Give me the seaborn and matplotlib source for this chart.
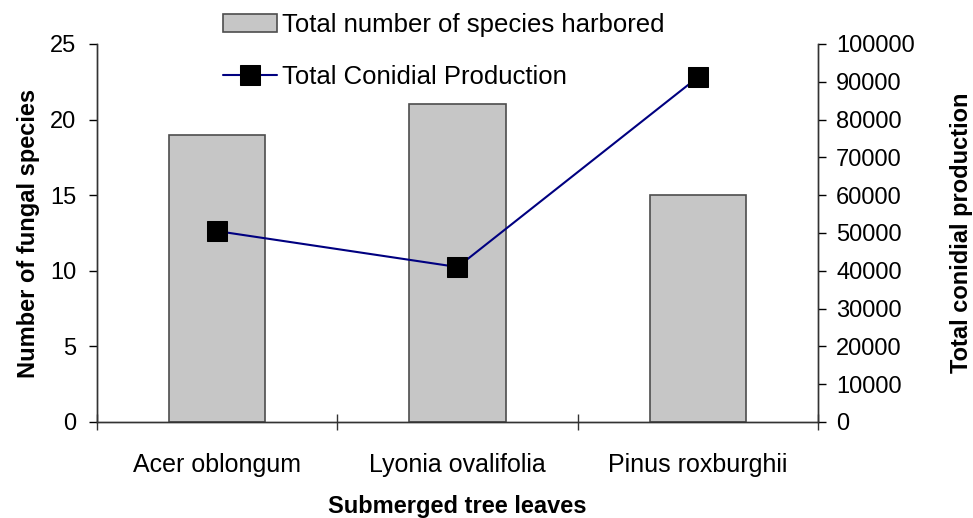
import numpy as np
import pandas as pd
import matplotlib.pyplot as plt
from matplotlib.ticker import FixedLocator
import seaborn as sns

# --- data ---
leaves = ['Acer oblongum', 'Lyonia ovalifolia', 'Pinus roxburghii']
species = [19, 21, 15]
conidia = [50500, 41000, 91200]

df = pd.DataFrame({'leaf': leaves, 'species': species, 'conidia': conidia})

sns.set_style('ticks')
plt.rcParams['font.family'] = ['Liberation Sans', 'DejaVu Sans']
plt.rcParams['text.color'] = 'black'
plt.rcParams['axes.labelcolor'] = 'black'
plt.rcParams['xtick.color'] = 'black'
plt.rcParams['ytick.color'] = 'black'

fig = plt.figure(figsize=(9.73, 5.18), dpi=100)
ax = fig.add_axes([97/973, 96/518, (818-97)/973, (422-44)/518])

sns.barplot(data=df, x='leaf', y='species', ax=ax, width=0.4,
            color='#c6c6c6', saturation=1, edgecolor='#4d4d4d', linewidth=1.2,
            label='Total number of species harbored', legend=False)
ax.set_ylim(0, 25)
ax.set_xlim(-0.5, 2.5)
ax.set_yticks(range(0, 26, 5))

ax2 = ax.twinx()
sns.lineplot(data=df, x='leaf', y='conidia', ax=ax2, color='#000080', linewidth=1.5,
             marker='s', markersize=14, markerfacecolor='black', markeredgecolor='black',
             label='Total Conidial Production', legend=False)
ax2.set_ylim(0, 100000)
ax2.set_yticks(range(0, 100001, 10000))

# x ticks: labels at categories, tick marks at boundaries
ax.xaxis.set_minor_locator(FixedLocator([-0.5, 0.5, 1.5, 2.5]))
ax.tick_params(axis='x', which='major', length=0, pad=22, labelsize=18)
ax.tick_params(axis='x', which='minor', direction='inout', length=12, width=1, color='#333333')
ax.tick_params(axis='y', direction='out', length=6, width=1, labelsize=17, pad=9)
ax2.tick_params(axis='y', direction='out', length=6, width=1, labelsize=17, pad=7)

for a in (ax, ax2):
    a.spines['top'].set_visible(False)
    for s in ('left', 'right', 'bottom'):
        a.spines[s].set_color('#333333')
        a.spines[s].set_linewidth(1)

ax.set_xlabel('Submerged tree leaves', fontsize=17, fontweight='bold', labelpad=13)
ax.set_ylabel('Number of fungal species', fontsize=17, fontweight='bold', labelpad=7)
ax2.set_ylabel('Total conidial production', fontsize=17, fontweight='bold', labelpad=25)

if ax.get_legend() is not None:
    ax.get_legend().remove()
h1, l1 = ax.get_legend_handles_labels()
h2, l2 = ax2.get_legend_handles_labels()
fig.legend(h1 + h2, l1 + l2, loc='upper left', bbox_to_anchor=(200/973, 1.02),
           frameon=False, fontsize=18.5, handlelength=2.1, handletextpad=0.2,
           labelspacing=1.1)

fig.savefig('out.png', dpi=100)
